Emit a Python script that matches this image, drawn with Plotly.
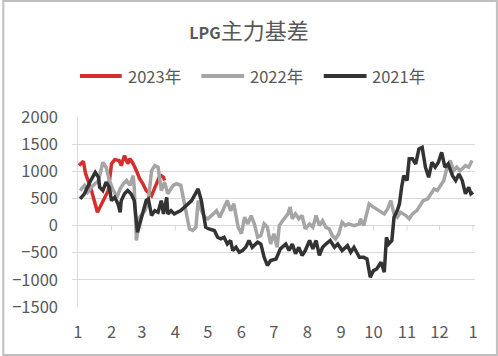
import plotly.graph_objects as go

# ---------------- data (x = day of year, y = basis) ----------------
days_2023 = [1, 5, 7, 12, 18, 23, 28, 31, 34, 38, 40, 43, 46, 48, 51, 54, 57, 60, 63, 68, 71, 75, 77, 79, 80]
vals_2023 = [1105, 1185, 960, 680, 245, 460, 645, 1140, 1215, 1200, 1105, 1290, 1140, 1230, 1140, 1010,
             865, 770, 645, 550, 705, 890, 920, 890, 830]

days_2022 = [2, 6, 9, 14, 19, 23, 26, 29, 32, 36, 39, 42, 45, 48, 51, 52, 54, 57, 62, 65, 68, 71, 74, 77,
             80, 83, 88, 91, 95, 100, 103, 106, 109, 111, 114, 117, 120, 125, 128, 131, 135, 138, 141,
             144, 148, 151, 154, 157, 160, 163, 166, 169, 172, 175, 178, 181, 184, 186, 189, 194, 196,
             198, 201, 204, 207, 210, 214, 217, 220, 223, 226, 229, 232, 235, 238, 241, 244, 247, 250,
             255, 260, 261, 264, 269, 273, 278, 283, 286, 289, 292, 295, 298, 303, 306, 309, 313, 316,
             319, 323, 326, 329, 332, 335, 338, 341, 344, 347, 350, 353, 358, 361, 364]
vals_2022 = [645, 740, 615, 740, 830, 1165, 1075, 830, 680, 520, 680, 770, 830, 740, 920, 705, -275, 155,
             275, 460, 1010, 1105, 1075, 645, 800, 585, 740, 770, 740, 275, -60, -90, -30, 460, 275, 155,
             125, 215, 275, 155, 340, 460, 275, 400, -30, -150, 155, 30, 185, 30, -215, -185, 30, -30,
             -340, -150, -400, 0, 90, 215, 340, 125, 215, 125, 185, -60, 30, -30, 185, 0, 90, -30, -60,
             -185, -245, -150, 60, 0, 30, 0, 30, 125, 0, 400, 340, 275, 215, 305, 460, 215, 155, 245,
             185, 125, 215, 275, 370, 460, 490, 585, 675, 645, 740, 830, 1075, 1200, 1010, 1075, 1010,
             1105, 1075, 1200]

days_2021 = [2, 6, 11, 16, 19, 20, 23, 26, 29, 31, 34, 37, 39, 40, 43, 46, 49, 52, 55, 57, 60, 63, 65,
             68, 71, 74, 77, 79, 82, 83, 86, 89, 95, 100, 105, 111, 114, 118, 121, 126, 129, 132, 135,
             138, 141, 143, 146, 149, 152, 155, 158, 161, 166, 169, 172, 175, 178, 183, 187, 192, 195,
             198, 201, 204, 207, 210, 214, 217, 220, 223, 226, 229, 233, 237, 240, 244, 249, 252, 255,
             260, 264, 267, 270, 273, 276, 280, 283, 285, 287, 290, 292, 295, 297, 299, 301, 304, 306,
             309, 312, 315, 318, 321, 324, 327, 330, 333, 336, 339, 342, 346, 349, 352, 355, 358, 361,
             363, 365]
vals_2021 = [490, 585, 800, 980, 890, 705, 645, 800, 705, 460, 520, 400, 245, 460, 585, 645, 585, 460,
             -125, 30, 275, 460, 490, 185, 275, 245, 460, 215, 520, 215, 275, 215, 275, 370, 460, 675,
             460, -30, -60, -90, -215, -245, -215, -340, -275, -460, -400, -490, -460, -400, -275, -400,
             -305, -340, -585, -735, -645, -615, -430, -340, -460, -340, -520, -400, -550, -460, -275,
             -430, -275, -550, -400, -340, -275, -400, -340, -460, -370, -490, -400, -585, -585, -615,
             -950, -830, -800, -675, -860, -215, -340, -275, 155, 275, 400, 705, 920, 830, 1230, 1230,
             1135, 1410, 1440, 1075, 890, 1165, 1075, 1165, 1350, 1075, 1135, 920, 830, 950, 830, 585,
             705, 585, 615]

series_names = ["2023年", "2022年", "2021年"]
series_colors = ["#D42E2E", "#A5A5A5", "#333333"]

month_days = [0, 31, 59, 90, 120, 151, 181, 212, 243, 273, 304, 334, 365]
month_labels = ["1", "2", "3", "4", "5", "6", "7", "8", "9", "10", "11", "12", "1"]
y_ticks = [-1500, -1000, -500, 0, 500, 1000, 1500, 2000]

# ---------------- layout geometry (pixels) ----------------
W, H = 498, 356
PL, PR, PT, PB = 70, 475, 117, 307   # plot area edges


def xp(px):
    return (px - PL) / (PR - PL)


def yp(py):
    return (PB - py) / (PB - PT)


FONT = "Noto Sans CJK SC, Noto Sans, sans-serif"
TXT = "#595959"
GRID = "#D9D9D9"
TICK_SIZE = 16.5

fig = go.Figure()
data = [(days_2023, vals_2023), (days_2022, vals_2022), (days_2021, vals_2021)]
for (d, v), name, col in zip(data, series_names, series_colors):
    fig.add_trace(go.Scatter(x=d, y=v, mode="lines", name=name,
                             line=dict(color=col, width=3.5), showlegend=False))

shapes = []
# chart border
shapes.append(dict(type="rect", xref="paper", yref="paper",
                   x0=xp(1), x1=xp(W - 1), y0=yp(H - 1), y1=yp(1),
                   line=dict(color="#BFBFBF", width=2), layer="below"))
# x tick marks on the zero line
for d in month_days[1:]:
    shapes.append(dict(type="line", xref="x", yref="y", x0=d, x1=d, y0=0, y1=-90,
                       line=dict(color=GRID, width=1), layer="below"))

# manual legend
annotations = []
leg_x = [(78, 120, 124), (200, 243, 247), (323, 366, 369)]
leg_y = 76
for (a, b, t), name, col in zip(leg_x, series_names, series_colors):
    shapes.append(dict(type="line", xref="paper", yref="paper",
                       x0=xp(a), x1=xp(b), y0=yp(leg_y), y1=yp(leg_y),
                       line=dict(color=col, width=4)))
    annotations.append(dict(xref="paper", yref="paper", x=xp(t), y=yp(leg_y),
                            xanchor="left", yanchor="middle", text=name, showarrow=False,
                            font=dict(family=FONT, size=TICK_SIZE, color=TXT)))

title_text = ("<b><span style='font-size:16px'>LPG</span></b>"
              "<span style='font-size:22px'>主力基差</span>")

fig.update_layout(
    width=W, height=H,
    margin=dict(l=PL, r=W - PR, t=PT, b=H - PB),
    paper_bgcolor="white", plot_bgcolor="white",
    title=dict(text=title_text, x=0.5, xanchor="center", y=1 - 32 / H, yanchor="middle",
               font=dict(family=FONT, size=20, color=TXT)),
    shapes=shapes, annotations=annotations,
    xaxis=dict(range=[-5.5, 366.8], tickmode="array", tickvals=month_days, ticktext=month_labels,
               showgrid=False, zeroline=True, zerolinecolor=GRID, zerolinewidth=1,
               showline=False, ticks="", ticklabelstandoff=13,
               tickfont=dict(family=FONT, size=TICK_SIZE, color=TXT)),
    yaxis=dict(range=[-1500, 2000], tickmode="array", tickvals=y_ticks,
               showgrid=True, gridcolor=GRID, gridwidth=1,
               zeroline=True, zerolinecolor=GRID, zerolinewidth=1,
               showline=False, ticks="", ticklabelstandoff=13,
               tickfont=dict(family=FONT, size=TICK_SIZE, color=TXT)),
    showlegend=False,
)

fig.write_html("out.html", config={"displayModeBar": False},
               post_script="document.body.style.margin='0';")
